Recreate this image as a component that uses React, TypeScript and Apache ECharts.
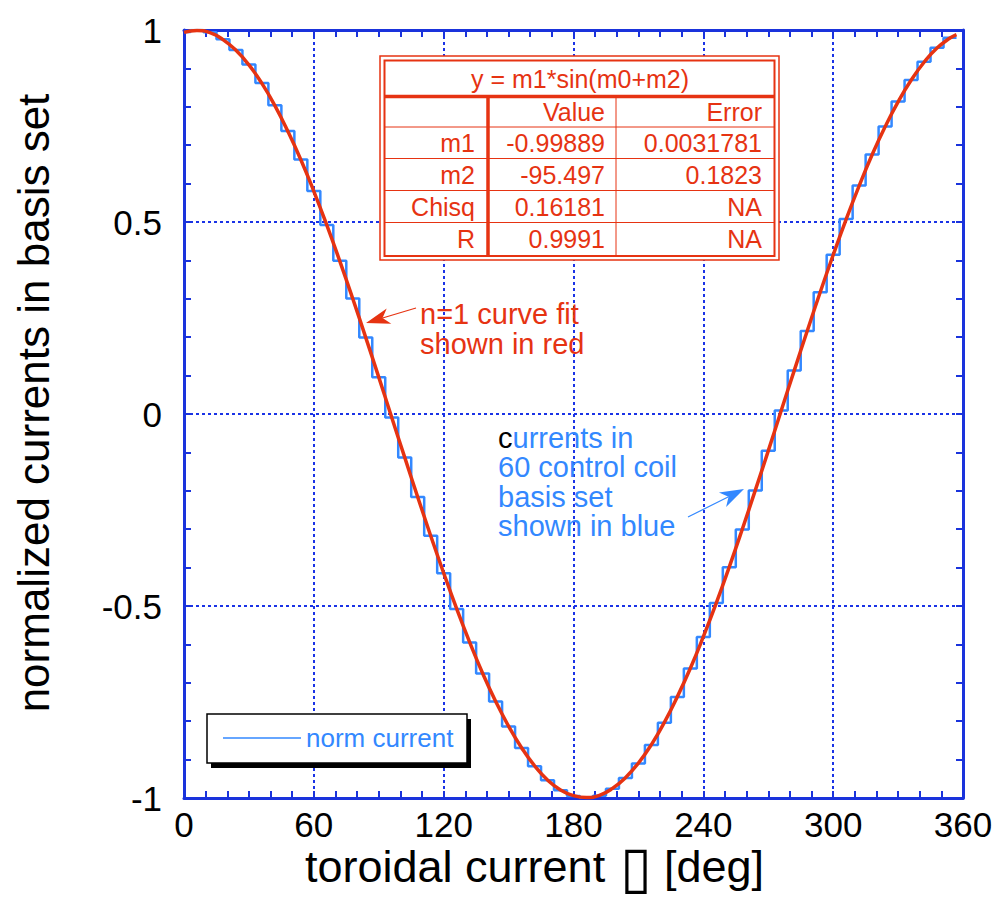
import React, { useEffect, useRef } from "react";
import * as echarts from "echarts";

// ---- data ----
const coilAngles = [0, 6, 12, 18, 24, 30, 36, 42, 48, 54, 60, 66, 72, 78, 84, 90, 96, 102, 108, 114, 120, 126, 132, 138, 144, 150, 156, 162, 168, 174, 180, 186, 192, 198, 204, 210, 216, 222, 228, 234, 240, 246, 252, 258, 264, 270, 276, 282, 288, 294, 300, 306, 312, 318, 324, 330, 336, 342, 348, 354, 357];
const coilCurrents = [0.995, 1.0, 0.994, 0.976, 0.948, 0.91, 0.862, 0.804, 0.737, 0.663, 0.581, 0.492, 0.399, 0.301, 0.199, 0.096, -0.009, -0.113, -0.216, -0.317, -0.415, -0.508, -0.595, -0.676, -0.749, -0.814, -0.87, -0.917, -0.954, -0.98, -0.995, -1.0, -0.994, -0.976, -0.948, -0.91, -0.862, -0.804, -0.737, -0.663, -0.581, -0.492, -0.399, -0.301, -0.199, -0.096, 0.009, 0.113, 0.216, 0.317, 0.415, 0.508, 0.595, 0.676, 0.749, 0.814, 0.87, 0.917, 0.954, 0.98, 0.98];
const fitAngles = [0, 6, 12, 18, 24, 30, 36, 42, 48, 54, 60, 66, 72, 78, 84, 90, 96, 102, 108, 114, 120, 126, 132, 138, 144, 150, 156, 162, 168, 174, 180, 186, 192, 198, 204, 210, 216, 222, 228, 234, 240, 246, 252, 258, 264, 270, 276, 282, 288, 294, 300, 306, 312, 318, 324, 330, 336, 342, 348, 354, 357];
const fitValues = [0.994, 0.999, 0.993, 0.975, 0.947, 0.909, 0.861, 0.803, 0.736, 0.662, 0.58, 0.492, 0.398, 0.3, 0.199, 0.096, -0.009, -0.113, -0.216, -0.317, -0.414, -0.507, -0.594, -0.675, -0.748, -0.813, -0.869, -0.916, -0.953, -0.979, -0.994, -0.999, -0.993, -0.975, -0.947, -0.909, -0.861, -0.803, -0.736, -0.662, -0.58, -0.492, -0.398, -0.3, -0.199, -0.096, 0.009, 0.113, 0.216, 0.317, 0.414, 0.507, 0.594, 0.675, 0.748, 0.813, 0.869, 0.916, 0.953, 0.979, 0.988];

const fitTitle = "y = m1*sin(m0+m2)";
const tableHeader = ["Value", "Error"];
const tableRowLabels = ["m1", "m2", "Chisq", "R"];
const tableValues = ["-0.99889", "-95.497", "0.16181", "0.9991"];
const tableErrors = ["0.0031781", "0.1823", "NA", "NA"];

const seriesName = "norm current";
const fitName = "n=1 curve fit";
const xTitleParts = ["toroidal current", "\u25AF", "[deg]"];
const yTitle = "normalized currents in basis set";
const redNote = "n=1 curve fit\nshown in red";
const blueNote = "{k|c}{b|urrents in}\n{b|60 control coil}\n{b|basis set}\n{b|shown in blue}";

// ---- styles ----
const FONT = '"Liberation Sans", Arial, Helvetica, sans-serif';
const AX = "#1a33dc";
const GRID = "#1a33e6";
const BLUE = "#3388ff";
const RED = "#e63312";

function arrow(tail: number[], tip: number[], color: string, len: number, half: number, width: number) {
  const dx = tip[0] - tail[0];
  const dy = tip[1] - tail[1];
  const d = Math.hypot(dx, dy);
  const ux = dx / d, uy = dy / d;
  const nx = -uy, ny = ux;
  const bx = tip[0] - ux * len, by = tip[1] - uy * len;
  const mx = tip[0] - ux * len * 0.72, my = tip[1] - uy * len * 0.72;
  return [
    { type: "line", z: 10, shape: { x1: tail[0], y1: tail[1], x2: mx, y2: my }, style: { stroke: color, lineWidth: width } },
    { type: "polygon", z: 10, shape: { points: [tip, [bx + nx * half, by + ny * half], [mx, my], [bx - nx * half, by - ny * half]] }, style: { fill: color } },
  ];
}

function txt(x: number, y: number, text: string, size: number, color: string, align: string) {
  return {
    type: "text", z: 12, x, y,
    style: { text, fill: color, fontSize: size, fontFamily: FONT, textAlign: align, textVerticalAlign: "middle" },
  };
}

function buildTable() {
  const els: any[] = [];
  els.push({ type: "rect", z: 10, shape: { x: 380, y: 56, width: 399, height: 204 }, style: { fill: "#fff", stroke: RED, lineWidth: 1.5 } });
  els.push({ type: "rect", z: 11, shape: { x: 384.5, y: 60.5, width: 390, height: 195.5 }, style: { fill: "none", stroke: RED, lineWidth: 2 } });
  els.push({ type: "line", z: 11, shape: { x1: 384.5, y1: 96.5, x2: 774.5, y2: 96.5 }, style: { stroke: RED, lineWidth: 3.5 } });
  const rowLines = [127, 158.5, 190.5, 222.5];
  rowLines.forEach((y) => els.push({ type: "line", z: 11, shape: { x1: 384.5, y1: y, x2: 774.5, y2: y }, style: { stroke: RED, lineWidth: 1 } }));
  els.push({ type: "line", z: 11, shape: { x1: 488, y1: 96.5, x2: 488, y2: 256 }, style: { stroke: RED, lineWidth: 3.5 } });
  els.push({ type: "line", z: 11, shape: { x1: 616, y1: 96.5, x2: 616, y2: 256 }, style: { stroke: RED, lineWidth: 1 } });
  els.push(txt(580, 79, fitTitle, 25, RED, "center"));
  els.push(txt(605, 112, tableHeader[0], 25, RED, "right"));
  els.push(txt(762, 112, tableHeader[1], 25, RED, "right"));
  const rowY = [143, 174.5, 206.5, 239];
  tableRowLabels.forEach((l, i) => {
    els.push(txt(475, rowY[i], l, 25, RED, "right"));
    els.push(txt(605, rowY[i], tableValues[i], 25, RED, "right"));
    els.push(txt(762, rowY[i], tableErrors[i], 25, RED, "right"));
  });
  return els;
}

export default function App() {
  const ref = useRef<HTMLDivElement>(null);
  useEffect(() => {
    if (!ref.current) return;
    const chart = echarts.init(ref.current, undefined, { renderer: "svg" });

    const axisCommon = {
      type: "value",
      axisLine: { show: true, onZero: false, lineStyle: { color: AX, width: 3 } },
      axisTick: { show: true, inside: true, length: 7, lineStyle: { color: AX, width: 2 } },
    };

    const graphics: any[] = [
      // axis titles
      {
        type: "text", z: 12, x: 305, y: 866,
        style: { text: xTitleParts[0], fill: "#000", fontSize: 45, fontFamily: FONT, textAlign: "left", textVerticalAlign: "middle" },
      },
      {
        type: "text", z: 12, x: 636, y: 866,
        style: { text: xTitleParts[1], fill: "#000", fontSize: 58, fontFamily: FONT, textAlign: "center", textVerticalAlign: "middle" },
      },
      {
        type: "text", z: 12, x: 664, y: 866,
        style: { text: xTitleParts[2], fill: "#000", fontSize: 45, fontFamily: FONT, textAlign: "left", textVerticalAlign: "middle" },
      },
      {
        type: "text", z: 12, x: 33, y: 403, rotation: Math.PI / 2,
        style: { text: yTitle, fill: "#000", fontSize: 44, fontFamily: FONT, textAlign: "center", textVerticalAlign: "middle" },
      },
      // legend box + shadow
      { type: "rect", z: 10, shape: { x: 211, y: 719, width: 260, height: 49 }, style: { fill: "#000" } },
      { type: "rect", z: 11, shape: { x: 207, y: 714, width: 260, height: 49 }, style: { fill: "#fff", stroke: "#000", lineWidth: 1.5 } },
      // fit table
      ...buildTable(),
      // red annotation
      {
        type: "text", z: 12, x: 420, y: 299.5,
        style: { text: redNote, fill: RED, fontSize: 29, lineHeight: 29.5, fontFamily: FONT, textAlign: "left", textVerticalAlign: "top" },
      },
      ...arrow([416, 308], [366, 323], RED, 24, 8, 1.2),
      // blue annotation
      {
        type: "text", z: 12, x: 498, y: 423,
        style: {
          text: blueNote, fontSize: 29, lineHeight: 29.5, fontFamily: FONT, textAlign: "left", textVerticalAlign: "top",
          rich: {
            k: { fill: "#000", color: "#000", fontSize: 29, lineHeight: 29.5, fontFamily: FONT },
            b: { fill: BLUE, color: BLUE, fontSize: 29, lineHeight: 29.5, fontFamily: FONT },
          },
        },
      },
      ...arrow([688, 517], [744, 489], BLUE, 24, 8, 1.2),
    ];

    chart.setOption({
      animation: false,
      backgroundColor: "#fff",
      grid: { left: 184, top: 30, right: 33, bottom: 119, containLabel: false },
      legend: {
        data: [seriesName],
        left: 223,
        top: 723,
        padding: 0,
        z: 30,
        icon: "rect",
        itemWidth: 78,
        itemHeight: 1.5,
        textStyle: { color: BLUE, fontSize: 26, fontFamily: FONT, lineHeight: 30 },
        selectedMode: false,
      },
      xAxis: [
        {
          ...axisCommon,
          position: "bottom",
          min: 0, max: 360, interval: 60,
          minorTick: { show: true, splitNumber: 6, length: 7, lineStyle: { color: AX, width: 2 } },
          axisLabel: { color: "#000", fontSize: 35, fontFamily: FONT, margin: 9 },
          splitLine: { show: true, lineStyle: { color: GRID, width: 2, type: [3, 3] } },
        },
        {
          ...axisCommon,
          position: "top",
          min: 0, max: 360, interval: 60,
          minorTick: { show: true, splitNumber: 6, length: 7, lineStyle: { color: AX, width: 2 } },
          axisLabel: { show: false },
          splitLine: { show: false },
        },
      ],
      yAxis: [
        {
          ...axisCommon,
          position: "left",
          min: -1, max: 1, interval: 0.5,
          minorTick: { show: true, splitNumber: 5, length: 7, lineStyle: { color: AX, width: 2 } },
          axisLabel: { color: "#000", fontSize: 35, fontFamily: FONT, margin: 22 },
          splitLine: { show: true, lineStyle: { color: GRID, width: 2, type: [3, 3] } },
        },
        {
          ...axisCommon,
          position: "right",
          min: -1, max: 1, interval: 0.5,
          minorTick: { show: true, splitNumber: 5, length: 7, lineStyle: { color: AX, width: 2 } },
          axisLabel: { show: false },
          splitLine: { show: false },
        },
      ],
      series: [
        {
          name: seriesName,
          type: "line",
          xAxisIndex: 0,
          yAxisIndex: 0,
          step: "middle",
          showSymbol: false,
          data: coilAngles.map((a, i) => [a, coilCurrents[i]]),
          lineStyle: { color: BLUE, width: 2.5 },
          itemStyle: { color: BLUE },
          z: 3,
        },
        {
          name: fitName,
          type: "line",
          xAxisIndex: 0,
          yAxisIndex: 0,
          smooth: true,
          showSymbol: false,
          data: fitAngles.map((a, i) => [a, fitValues[i]]),
          lineStyle: { color: RED, width: 3.5 },
          itemStyle: { color: RED },
          z: 4,
        },
      ],
      graphic: { elements: graphics },
    });
    return () => chart.dispose();
  }, []);
  return <div ref={ref} style={{ position: "fixed", left: 0, top: 0, width: 996, height: 917 }} />;
}
